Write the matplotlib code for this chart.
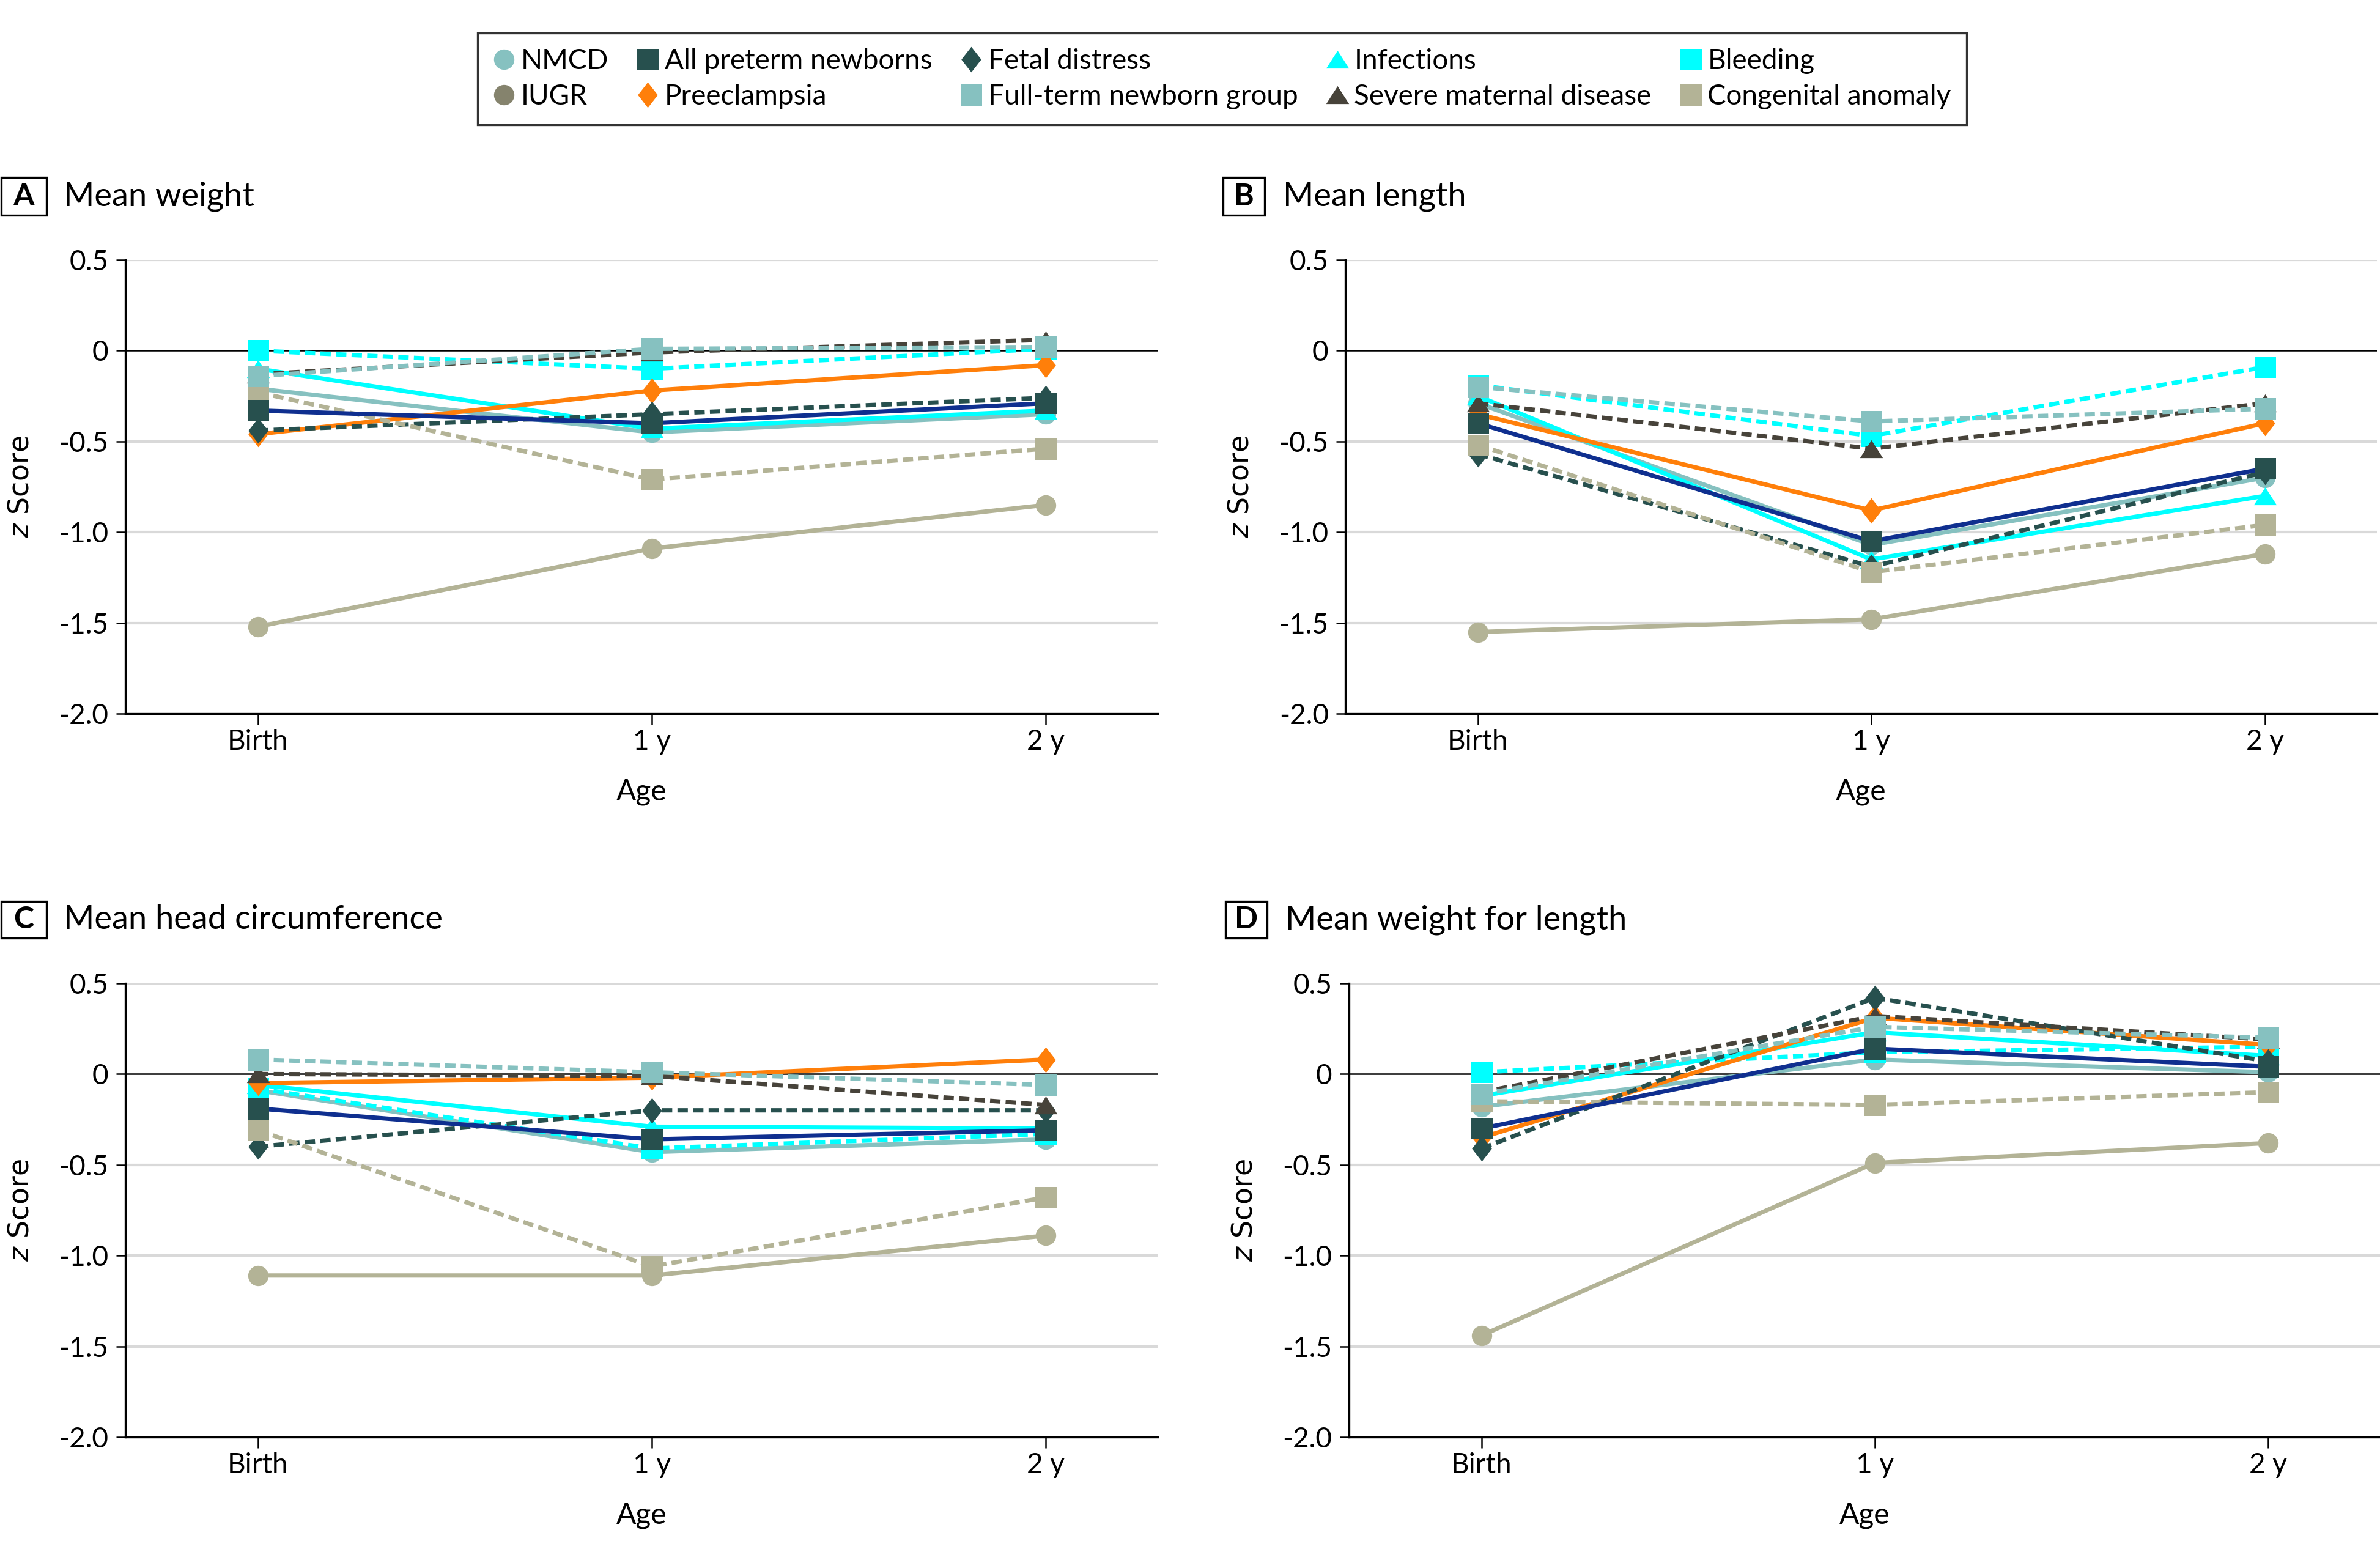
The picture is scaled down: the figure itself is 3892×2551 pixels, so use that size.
import matplotlib
matplotlib.use("Agg")
import matplotlib.pyplot as plt
from matplotlib.lines import Line2D
from matplotlib.patches import Rectangle

plt.rcParams['font.family'] = ['Lato', 'DejaVu Sans']

# ---------------- data ----------------
ages = ["Birth", "1 y", "2 y"]
series_names = ["NMCD", "IUGR", "All preterm newborns", "Preeclampsia", "Fetal distress",
                "Full-term newborn group", "Infections", "Severe maternal disease",
                "Bleeding", "Congenital anomaly"]
panel_letters = ["A", "B", "C", "D"]
panel_titles = ["Mean weight", "Mean length", "Mean head circumference", "Mean weight for length"]
y_ticks = [0.5, 0, -0.5, -1.0, -1.5, -2.0]
y_tick_labels = ["0.5", "0", "-0.5", "-1.0", "-1.5", "-2.0"]

weight = {
    "NMCD": [-0.21, -0.45, -0.35],
    "IUGR": [-1.52, -1.09, -0.85],
    "All preterm newborns": [-0.33, -0.40, -0.29],
    "Preeclampsia": [-0.46, -0.22, -0.08],
    "Fetal distress": [-0.44, -0.35, -0.26],
    "Full-term newborn group": [-0.14, 0.01, 0.02],
    "Infections": [-0.10, -0.43, -0.33],
    "Severe maternal disease": [-0.13, -0.01, 0.06],
    "Bleeding": [0.00, -0.10, 0.01],
    "Congenital anomaly": [-0.23, -0.71, -0.54],
}
length = {
    "NMCD": [-0.29, -1.07, -0.70],
    "IUGR": [-1.55, -1.48, -1.12],
    "All preterm newborns": [-0.40, -1.05, -0.65],
    "Preeclampsia": [-0.35, -0.88, -0.40],
    "Fetal distress": [-0.57, -1.19, -0.67],
    "Full-term newborn group": [-0.20, -0.39, -0.32],
    "Infections": [-0.25, -1.15, -0.80],
    "Severe maternal disease": [-0.29, -0.54, -0.29],
    "Bleeding": [-0.19, -0.47, -0.09],
    "Congenital anomaly": [-0.52, -1.22, -0.96],
}
head = {
    "NMCD": [-0.09, -0.43, -0.36],
    "IUGR": [-1.11, -1.11, -0.89],
    "All preterm newborns": [-0.19, -0.36, -0.31],
    "Preeclampsia": [-0.05, -0.02, 0.08],
    "Fetal distress": [-0.40, -0.20, -0.20],
    "Full-term newborn group": [0.08, 0.01, -0.06],
    "Infections": [-0.06, -0.29, -0.30],
    "Severe maternal disease": [0.00, -0.01, -0.17],
    "Bleeding": [-0.08, -0.41, -0.33],
    "Congenital anomaly": [-0.31, -1.06, -0.68],
}
wfl = {
    "NMCD": [-0.18, 0.08, 0.01],
    "IUGR": [-1.44, -0.49, -0.38],
    "All preterm newborns": [-0.30, 0.14, 0.04],
    "Preeclampsia": [-0.35, 0.31, 0.16],
    "Fetal distress": [-0.41, 0.42, 0.07],
    "Full-term newborn group": [-0.11, 0.26, 0.20],
    "Infections": [-0.12, 0.23, 0.10],
    "Severe maternal disease": [-0.10, 0.32, 0.19],
    "Bleeding": [0.01, 0.12, 0.15],
    "Congenital anomaly": [-0.15, -0.17, -0.10],
}
panels = [weight, length, head, wfl]

# ---------------- styles ----------------
light_teal = '#86c1c0'
dark_teal = '#27504e'
navy = '#0f2f8f'
orange = '#ff7f0a'
cyan = '#00ffff'
dark_gray = '#47433a'
khaki = '#b3b396'
iugr_legend = '#85836d'

diamond = [(0, 1), (0.78, 0), (0, -1), (-0.78, 0)]
triangle = [(-1, -0.78), (1, -0.78), (0, 0.78)]
dash = (0, (2.4, 1.2))

# name: line color, marker, marker color, linestyle, markersize, legend color
style = {
    "NMCD": (light_teal, 'o', light_teal, '-', 8.0, light_teal),
    "IUGR": (khaki, 'o', khaki, '-', 8.0, iugr_legend),
    "All preterm newborns": (navy, 's', dark_teal, '-', 8.4, dark_teal),
    "Preeclampsia": (orange, diamond, orange, '-', 10.0, orange),
    "Fetal distress": (dark_teal, diamond, dark_teal, dash, 10.0, dark_teal),
    "Full-term newborn group": (light_teal, 's', light_teal, dash, 8.4, light_teal),
    "Infections": (cyan, triangle, cyan, '-', 9.0, cyan),
    "Severe maternal disease": (dark_gray, triangle, dark_gray, dash, 9.0, dark_gray),
    "Bleeding": (cyan, 's', cyan, dash, 8.4, cyan),
    "Congenital anomaly": (khaki, 's', khaki, dash, 8.4, khaki),
}
draw_order = ["IUGR", "NMCD", "Infections", "Bleeding", "Preeclampsia", "Fetal distress",
              "Congenital anomaly", "Severe maternal disease", "Full-term newborn group",
              "All preterm newborns"]

W, H = 3892, 2551
fig = plt.figure(figsize=(W / 300, H / 300), dpi=300)

def fx(px):
    return px / W

def fy(py):
    return 1 - py / H

ax_rects = [
    [0.0527, 0.5425, 0.4337, 0.2909],
    [0.5653, 0.5425, 0.4334, 0.2909],
    [0.0527, 0.0788, 0.4337, 0.2909],
    [0.5668, 0.0788, 0.4332, 0.2909],
]
boxes = [(2, 290, 74, 62), (2000, 290, 68, 62), (2, 1474, 74, 60), (2004, 1474, 68, 60)]
title_x = [104, 2098, 104, 2102]
title_y = [321, 321, 1504, 1504]

for i, (rect, data) in enumerate(zip(ax_rects, panels)):
    ax = fig.add_axes(rect)
    x = list(range(len(ages)))
    for gy in [0.5, -0.5, -1.0, -1.5]:
        ax.axhline(gy, color='#d9d9d9', lw=1.0, zorder=0.5)
    ax.axhline(0, color='black', lw=0.6, zorder=0.6)
    for z, name in enumerate(draw_order):
        lc, mk, mc, ls, ms, _ = style[name]
        ax.plot(x, data[name], color=lc, linestyle=ls, lw=1.7, marker=mk,
                markersize=ms, markerfacecolor=mc, markeredgecolor=mc, markeredgewidth=0,
                zorder=2 + z, clip_on=False)
    ax.set_xlim(-0.337, 2.285)
    ax.set_ylim(-2.0, 0.5)
    ax.set_xticks(x)
    ax.set_xticklabels(ages, fontsize=11)
    ax.set_yticks(y_ticks)
    ax.set_yticklabels(y_tick_labels, fontsize=11)
    ax.tick_params(axis='y', length=3.6, width=0.6, pad=3)
    ax.tick_params(axis='x', length=4.3, width=0.6, pad=1.8)
    for s in ['top', 'right']:
        ax.spines[s].set_visible(False)
    ax.spines['left'].set_linewidth(0.8)
    ax.spines['bottom'].set_linewidth(0.8)
    ax.set_ylabel('$z$ Score', fontsize=11, family='DejaVu Sans')
    ax.yaxis.set_label_coords(-0.088, 0.5)
    ax.set_xlabel('Age', fontsize=11.5)
    ax.xaxis.set_label_coords(0.5, -0.143)

    bx, by, bw, bh = boxes[i]
    fig.patches.append(Rectangle((fx(bx), fy(by + bh)), bw / W, bh / H, transform=fig.transFigure,
                                 fill=False, edgecolor='black', lw=0.8))
    fig.text(fx(bx + bw / 2), fy(by + bh / 2), panel_letters[i], fontsize=12, fontweight='bold',
             ha='center', va='center')
    fig.text(fx(title_x[i]), fy(title_y[i]), panel_titles[i], fontsize=13, ha='left', va='center')

handles = []
for name in series_names:
    lc, mk, mc, ls, ms, legc = style[name]
    handles.append(Line2D([], [], linestyle='None', marker=mk, markersize=ms,
                          markerfacecolor=legc, markeredgecolor=legc, markeredgewidth=0))
leg = fig.legend(handles, series_names, loc='upper center', bbox_to_anchor=(0.5134, 0.988),
                 ncol=5, fontsize=11, frameon=True, fancybox=False, edgecolor='black',
                 handlelength=0.8, handletextpad=0.2, columnspacing=1.0, borderpad=0.55,
                 labelspacing=0.35)
leg.get_frame().set_linewidth(0.8)

fig.savefig('out.png', dpi=300, facecolor='white')
